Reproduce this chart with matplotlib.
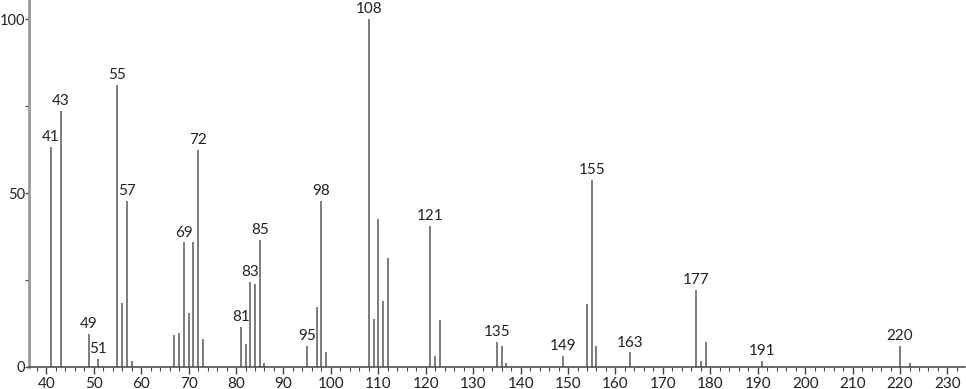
import matplotlib
matplotlib.use("Agg")
from matplotlib import pyplot as plt
from matplotlib.ticker import MultipleLocator

# m/z and relative intensity
mz = [41, 43, 49, 51, 55, 56, 57, 58, 67, 68, 69, 70, 71, 72, 73,
      81, 82, 83, 84, 85, 86, 95, 97, 98, 99,
      108, 109, 110, 111, 112, 121, 122, 123, 135, 136, 137,
      149, 151, 154, 155, 156, 163, 165, 177, 178, 179,
      191, 193, 220, 222]
intensity = [63.3, 73.6, 9.5, 2.3, 81.2, 18.5, 47.7, 1.8, 9.2, 9.7, 35.8, 15.4, 35.8, 62.5, 8.0,
             11.5, 6.6, 24.5, 23.8, 36.6, 1.2, 6.0, 17.2, 47.7, 4.3,
             100.0, 13.8, 42.5, 19.0, 31.3, 40.6, 3.2, 13.4, 7.2, 6.0, 1.2,
             3.2, 0.4, 18.0, 53.7, 6.0, 4.2, 0.4, 22.1, 1.8, 7.3,
             1.8, 0.4, 6.0, 1.2]
labelled = [41, 43, 49, 51, 55, 57, 69, 72, 81, 83, 85, 95, 98,
            108, 121, 135, 149, 155, 163, 177, 191, 220]

plt.rcParams['font.family'] = ['Lato', 'DejaVu Sans']

fig = plt.figure(figsize=(9.66, 3.89), dpi=100)
ax = fig.add_axes([29 / 966, 22 / 389, 936 / 966, 367 / 389])

ax.vlines(mz, 0, intensity, color="#666666", linewidth=1.2)
for m, h in zip(mz, intensity):
    if m in labelled:
        ax.annotate(str(m), xy=(m, h), xytext=(0, 2), textcoords="offset points",
                    ha="center", va="bottom", fontsize=11, color="#222222")

ax.set_xlim(36.35, 233.7)
ax.set_ylim(0, 105.5)

for s in ["top", "right"]:
    ax.spines[s].set_visible(False)
ax.spines["left"].set_color("#999999")
ax.spines["left"].set_linewidth(2)
ax.spines["bottom"].set_color("#444444")
ax.spines["bottom"].set_linewidth(1.1)

ax.xaxis.set_major_locator(MultipleLocator(10))
ax.xaxis.set_minor_locator(MultipleLocator(2))
ax.yaxis.set_major_locator(MultipleLocator(50))
ax.yaxis.set_minor_locator(MultipleLocator(25))
ax.tick_params(axis="x", which="major", length=5, width=1, color="#444444", pad=2,
               labelsize=11, labelcolor="#222222")
ax.tick_params(axis="x", which="minor", length=3, width=0.8, color="#444444")
ax.tick_params(axis="y", which="major", length=3, width=1, color="#444444", pad=0,
               labelsize=10.5, labelcolor="#222222")
ax.tick_params(axis="y", which="minor", length=3, width=0.8, color="#444444")

fig.savefig("out.png", dpi=100)
